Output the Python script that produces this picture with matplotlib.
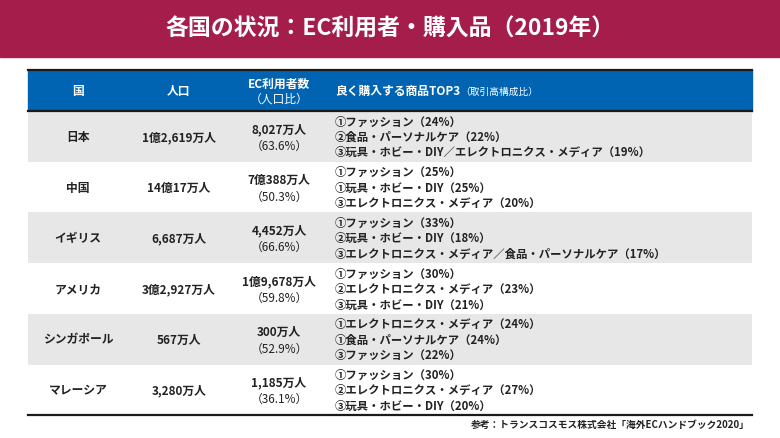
import matplotlib
matplotlib.use("Agg")
import matplotlib.pyplot as plt
from matplotlib.patches import Rectangle

plt.rcParams['font.family'] = ['Noto Sans CJK JP', 'DejaVu Sans']

title = "各国の状況：EC利用者・購入品（2019年）"
headers = ["国", "人口", "EC利用者数", "良く購入する商品TOP3"]
header_subs = ["", "", "（人口比）", "（取引高構成比）"]

countries = ["日本", "中国", "イギリス", "アメリカ", "シンガポール", "マレーシア"]
population = ["1億2,619万人", "14億17万人", "6,687万人", "3億2,927万人", "567万人", "3,280万人"]
ec_users = ["8,027万人", "7億388万人", "4,452万人", "1億9,678万人", "300万人", "1,185万人"]
ec_ratio = ["63.6%", "50.3%", "66.6%", "59.8%", "52.9%", "36.1%"]
top3 = [
    ["①ファッション（24%）", "②食品・パーソナルケア（22%）",
     "③玩具・ホビー・DIY／エレクトロニクス・メディア（19%）"],
    ["①ファッション（25%）", "①玩具・ホビー・DIY（25%）",
     "③エレクトロニクス・メディア（20%）"],
    ["①ファッション（33%）", "②玩具・ホビー・DIY（18%）",
     "③エレクトロニクス・メディア／食品・パーソナルケア（17%）"],
    ["①ファッション（30%）", "②エレクトロニクス・メディア（23%）",
     "③玩具・ホビー・DIY（21%）"],
    ["①エレクトロニクス・メディア（24%）", "①食品・パーソナルケア（24%）",
     "③ファッション（22%）"],
    ["①ファッション（30%）", "②エレクトロニクス・メディア（27%）",
     "③玩具・ホビー・DIY（20%）"],
]
source = "参考：トランスコスモス株式会社「海外ECハンドブック2020」"

# layout (pixels)
W, H = 780, 439
left, right = 28, 752
head_top, head_bot = 71, 112
row_h = 50.7
col_x = [78, 179, 279]
list_x = 335

crimson = "#A51E4B"
blue = "#0064B2"
gray = "#E7E7E7"
ink = "#222222"

fig = plt.figure(figsize=(W / 100, H / 100), dpi=100)
ax = fig.add_axes([0, 0, 1, 1])
ax.set_xlim(0, W)
ax.set_ylim(H, 0)
ax.axis("off")

# title band
ax.add_patch(Rectangle((0, 0), W, 58, color=crimson))
ax.text(W / 2, 29, title, color="white", fontsize=16.5, fontweight="bold",
        ha="center", va="center")

# header
ax.add_patch(Rectangle((left, head_top), right - left, head_bot - head_top, color=blue))
ax.plot([left, right], [head_top, head_top], color="#1a1a1a", lw=1.6)
ax.plot([left, right], [head_bot, head_bot], color="#1a1a1a", lw=1.6)
hy = (head_top + head_bot) / 2
for i in range(3):
    if header_subs[i]:
        ax.text(col_x[i], hy - 7, headers[i], color="white", fontsize=8.5,
                fontweight="bold", ha="center", va="center")
        ax.text(col_x[i], hy + 8, header_subs[i], color="white", fontsize=8.5,
                ha="center", va="center")
    else:
        ax.text(col_x[i], hy, headers[i], color="white", fontsize=8.5,
                fontweight="bold", ha="center", va="center")
t = ax.text(list_x, hy, headers[3], color="white", fontsize=8.5,
            fontweight="bold", ha="left", va="center")
ax.annotate(header_subs[3], xycoords=t, xy=(1, 0.5), va="center", ha="left",
            color="white", fontsize=7)

# rows
for r in range(len(countries)):
    y0 = head_bot + r * row_h
    if r % 2 == 0:
        ax.add_patch(Rectangle((left, y0), right - left, row_h, color=gray, lw=0))
    cy = y0 + row_h / 2
    ax.text(col_x[0], cy, countries[r], color=ink, fontsize=8.5, fontweight="bold",
            ha="center", va="center")
    ax.text(col_x[1], cy, population[r], color=ink, fontsize=8.5, fontweight="bold",
            ha="center", va="center")
    ax.text(col_x[2], cy - 8, ec_users[r], color=ink, fontsize=8.5, fontweight="bold",
            ha="center", va="center")
    ax.text(col_x[2], cy + 9, "（" + ec_ratio[r] + "）", color=ink, fontsize=8.5,
            ha="center", va="center")
    for k, item in enumerate(top3[r]):
        ax.text(list_x, cy + (k - 1) * 15.5, item, color=ink, fontsize=8.2,
                fontweight="bold", ha="left", va="center")

table_bot = head_bot + len(countries) * row_h
ax.plot([left, right], [table_bot, table_bot], color="#1a1a1a", lw=1.6)

ax.text(750, 425, source, color=ink, fontsize=7, fontweight="bold",
        ha="right", va="center")

fig.savefig("out.png", dpi=100)
